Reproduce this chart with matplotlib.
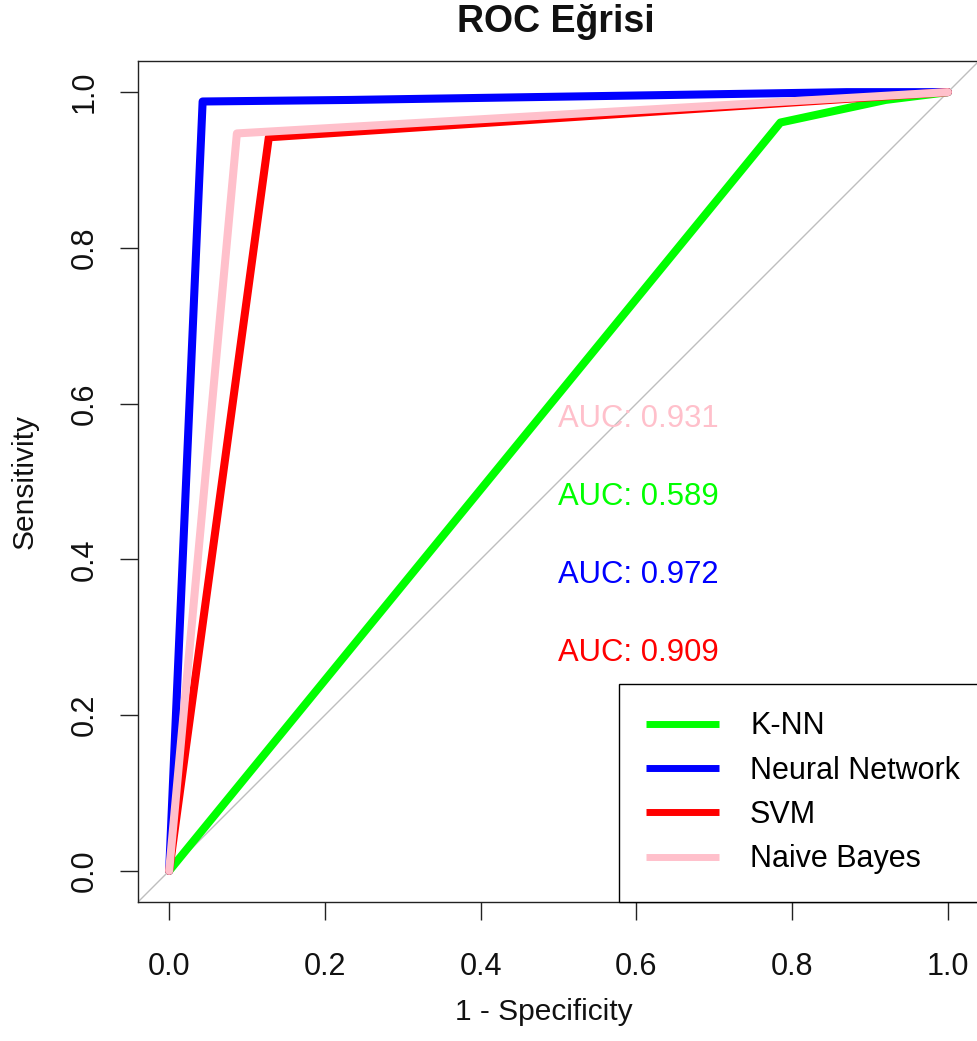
import matplotlib
matplotlib.use("Agg")
import matplotlib.pyplot as plt

plt.rcParams['font.family'] = ['Liberation Sans', 'DejaVu Sans']

# ROC data (1 - specificity, sensitivity)
knn_fpr = [0.0, 0.785, 0.92, 1.0]
knn_tpr = [0.0, 0.961, 0.99, 1.0]
nn_fpr = [0.0, 0.043, 0.233, 0.426, 0.62, 0.87, 1.0]
nn_tpr = [0.0, 0.988, 0.990, 0.993, 0.996, 1.0, 1.0]
svm_fpr = [0.0, 0.128, 1.0]
svm_tpr = [0.0, 0.942, 1.0]
nb_fpr = [0.0, 0.087, 1.0]
nb_tpr = [0.0, 0.947, 1.0]

model_names = ["K-NN", "Neural Network", "SVM", "Naive Bayes"]
model_colors = ["#00FF00", "#0000FF", "#FF0000", "#FFC0CB"]
auc_values = [0.589, 0.972, 0.909, 0.931]
auc_text_y = [0.48, 0.38, 0.28, 0.58]

xticks = [0.0, 0.2, 0.4, 0.6, 0.8, 1.0]
yticks = [0.0, 0.2, 0.4, 0.6, 0.8, 1.0]

W, H = 977, 1041
fig = plt.figure(figsize=(W / 100, H / 100), dpi=100)
ax = fig.add_axes([138 / W, (H - 902) / H, 841 / W, 841 / H])

ax.set_xlim(-0.04, 1.04)
ax.set_ylim(-0.04, 1.04)

ax.axline((0, 0), (1, 1), color="#BEBEBE", lw=1.0, zorder=1)

curves = [(knn_fpr, knn_tpr), (nn_fpr, nn_tpr), (svm_fpr, svm_tpr), (nb_fpr, nb_tpr)]
for (fx, fy), name, col in zip(curves, model_names, model_colors):
    ax.plot(fx, fy, color=col, lw=5.8, label=name,
            solid_capstyle="round", solid_joinstyle="round", zorder=2)

for auc, ty, col in zip(auc_values, auc_text_y, model_colors):
    ax.text(0.5, ty, f"AUC: {auc:.3f}", color=col, fontsize=22.3,
            ha="left", va="center", zorder=3)

ax.set_xticks(xticks)
ax.set_yticks(yticks)
ax.set_xticklabels([f"{v:.1f}" for v in xticks])
ax.set_yticklabels([f"{v:.1f}" for v in yticks], rotation=90, va="center")
ax.tick_params(axis="both", labelsize=22, length=13, width=1.0, color="#222222",
               labelcolor="#111111")
ax.tick_params(axis="x", pad=23)
ax.tick_params(axis="y", pad=14.5)
for s in ax.spines.values():
    s.set_linewidth(1.0)
    s.set_color("#222222")

ax.set_xlabel("1 - Specificity", fontsize=21.5, color="#111111")
ax.xaxis.set_label_coords(0.482, -(1012 - 902) / 841)
ax.xaxis.label.set_verticalalignment("center")
ax.set_ylabel("Sensitivity", fontsize=21.5, color="#111111")
ax.yaxis.set_label_coords(-(138 - 25) / 841, 0.5)
ax.yaxis.label.set_verticalalignment("center")

fig.text(556 / W, 1 - 22 / H, "ROC Eğrisi", fontsize=27, fontweight="bold",
         ha="center", va="center", color="#111111")

leg = ax.legend(loc="lower right", bbox_to_anchor=(1.01, 0.0), borderaxespad=0,
                fontsize=22, frameon=True, fancybox=False, edgecolor="black",
                framealpha=1, handlelength=2.4, handletextpad=1.0,
                labelspacing=0.47, borderpad=0.9)
leg.get_frame().set_linewidth(1.0)
for line in leg.get_lines():
    line.set_linewidth(5.0)
    line.set_solid_capstyle("butt")
leg.set_zorder(5)

fig.savefig("out.png", dpi=100)
